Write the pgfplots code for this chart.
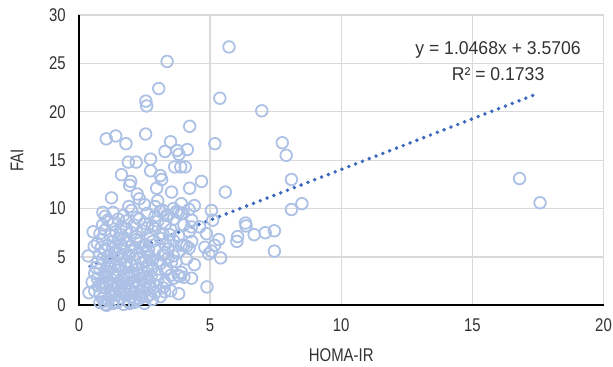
\documentclass[border=0pt]{standalone}
\usepackage{fontspec}
\setmainfont[FakeStretch=0.81]{Liberation Sans}
\newfontfamily\eqfont[FakeStretch=0.95]{Liberation Sans}
\usepackage{pgfplots}
\pgfplotsset{compat=1.18}
\definecolor{gridc}{RGB}{217,217,217}
\definecolor{mk}{RGB}{172,193,229}
\definecolor{tl}{RGB}{60,105,190}
\definecolor{txt}{RGB}{50,50,50}
\pgfplotstableread{
x y
1.04 17.2
1.40 17.5
1.79 16.7
2.54 17.7
3.36 25.2
3.04 22.4
2.55 21.1
2.58 20.6
5.72 26.7
5.37 21.4
6.97 20.1
4.22 18.5
3.49 16.9
3.28 15.9
3.74 16.0
3.81 15.6
4.13 16.1
5.18 16.7
2.73 15.1
2.18 14.8
1.88 14.8
1.62 13.5
1.97 12.8
1.93 12.4
2.73 13.9
3.10 13.4
3.15 13.0
2.96 12.1
2.22 11.5
2.30 11.0
1.24 11.1
3.65 14.3
3.88 14.3
4.05 14.3
4.67 12.8
4.22 12.1
3.53 11.7
5.58 11.7
7.75 16.8
7.90 15.5
8.10 13.0
8.50 10.5
8.10 9.9
5.05 9.8
6.35 8.5
6.37 8.2
6.05 7.1
6.02 6.6
6.68 7.3
7.10 7.5
7.45 7.7
7.45 5.6
5.40 4.9
4.88 1.9
4.86 7.4
5.10 8.8
5.33 6.8
4.80 6.0
5.05 5.6
4.95 5.3
5.17 6.2
16.8 13.1
17.58 10.6
4.60 8.1
4.29 8.1
3.90 9.5
4.29 2.8
3.84 3.0
3.27 1.4
2.70 1.1
1.94 0.2
1.05 0.0
0.38 1.3
0.35 5.1
0.54 7.6
0.58 6.1
0.91 9.6
3.72 9.7
3.97 9.5
3.34 9.3
3.46 7.3
3.90 6.2
4.10 6.1
3.27 5.4
3.53 4.5
3.34 3.8
3.78 3.1
3.27 2.4
3.40 6.6
0.8 0.3
1.0 0.1
1.1 0.6
1.3 0.2
1.5 0.5
1.7 0.1
1.9 0.4
2.1 0.3
2.3 0.7
2.5 0.2
2.8 0.6
3.1 0.9
1.2 0.9
1.6 0.8
2.0 0.9
0.9 0.7
2.6 0.9
0.6 1.5
0.8 1.2
1.0 1.8
1.2 1.4
1.4 1.1
1.5 1.9
1.7 1.3
1.9 1.7
2.1 1.2
2.2 1.8
2.4 1.4
2.6 1.6
2.9 1.3
3.2 1.8
3.5 1.5
0.9 1.9
1.3 1.7
2.0 1.5
2.7 1.9
3.8 1.2
0.5 2.4
0.7 2.8
0.9 2.3
1.1 2.6
1.2 2.1
1.4 2.9
1.6 2.4
1.8 2.2
1.9 2.8
2.1 2.5
2.3 2.2
2.5 2.9
2.7 2.4
3.0 2.6
3.3 2.3
3.6 2.8
4.0 2.9
1.0 2.9
1.5 2.2
2.4 2.7
0.6 3.3
0.8 3.7
1.0 3.2
1.2 3.8
1.3 3.4
1.5 3.6
1.7 3.1
1.8 3.9
2.0 3.4
2.2 3.7
2.3 3.1
2.5 3.5
2.8 3.9
3.0 3.2
3.3 3.6
3.5 3.1
3.9 3.4
1.1 3.5
1.9 3.3
2.6 3.8
0.7 4.4
0.9 4.8
1.1 4.1
1.2 4.6
1.4 4.3
1.6 4.9
1.8 4.5
2.0 4.2
2.1 4.8
2.4 4.4
2.6 4.1
2.8 4.7
3.1 4.3
3.4 4.9
3.7 4.5
4.1 4.8
1.5 4.0
2.3 4.9
3.0 4.6
4.4 4.2
0.8 5.3
1.0 5.7
1.2 5.2
1.3 5.9
1.5 5.4
1.7 5.8
1.9 5.1
2.0 5.6
2.2 5.3
2.4 5.9
2.6 5.4
2.9 5.7
3.2 5.2
3.4 5.8
3.8 5.5
4.2 5.9
1.1 5.0
2.7 5.0
3.6 5.1
0.7 6.4
0.9 6.8
1.1 6.2
1.3 6.6
1.5 6.9
1.6 6.3
1.8 6.7
2.0 6.1
2.2 6.8
2.3 6.4
2.5 6.2
2.8 6.6
3.1 6.9
3.3 6.3
3.6 6.7
4.0 6.2
4.3 6.6
1.4 6.1
0.8 7.4
1.0 7.8
1.2 7.2
1.4 7.6
1.6 7.3
1.8 7.9
2.0 7.5
2.2 7.1
2.4 7.7
2.7 7.3
2.9 7.9
3.2 7.4
3.5 7.8
3.8 7.2
4.2 7.6
1.7 7.0
0.9 8.3
1.1 8.8
1.3 8.4
1.6 8.1
1.8 8.7
2.1 8.3
2.3 8.9
2.5 8.5
2.8 8.2
3.0 8.7
3.3 8.4
3.6 8.9
4.0 8.3
4.3 8.8
1.5 8.9
2.6 8.0
1.0 9.2
1.3 9.6
1.7 9.3
2.0 9.8
2.2 9.1
2.6 9.5
2.9 9.2
3.1 9.7
3.4 9.3
3.8 9.6
4.2 9.9
1.9 10.2
2.5 10.4
2.9 10.2
3.2 9.8
3.6 10.0
3.9 10.5
4.4 10.3
3.0 10.8
0.95 0.4
1.45 0.3
2.15 0.6
1.25 1.2
1.75 1.6
2.35 1.0
1.05 2.2
1.65 2.7
2.25 3.3
1.35 3.1
2.05 2.0
1.85 1.1
2.45 2.1
1.55 1.4
0.75 2.0
1.15 4.4
1.75 4.2
2.55 4.6
1.35 5.5
2.15 5.9
0.65 3.9
0.85 6.0
2.75 3.0
2.95 2.0
2.65 5.8
}\pts
\pgfplotstableread{
x y
0.42 4.01
17.55 21.94
}\trend
\begin{document}
\begin{tikzpicture}
\begin{axis}[name=ax, scale only axis, width=524.5bp, height=290.3bp,
  xmin=0, xmax=20, ymin=0, ymax=30,
  xtick={0,5,10,15,20}, ytick={0,5,10,15,20,25,30},
  grid=major, major grid style={gridc, line width=1.3bp},
  axis line style={gridc, line width=1.3bp},
  major tick length=0pt,
  /pgf/number format/assume math mode=true,
  tick label style={font=\fontsize{18.5}{19}\selectfont, text=txt, inner sep=0pt},
  xticklabel style={anchor=north, yshift=-13.5bp},
  yticklabel style={anchor=east, xshift=-13bp},
  label style={font=\fontsize{18.5}{19}\selectfont, text=txt},
  xlabel={HOMA-IR},
  ylabel={FAI},
  xlabel style={at={(axis description cs:0.5,-0.172)}, anchor=center},
  ylabel style={at={(axis description cs:-0.118,0.5)}, anchor=center},
  clip=false,
]
\addplot[only marks, mark=o, mark size=5.8bp, mark options={draw=mk, line width=1.8bp, fill opacity=0}] table {\pts};
\addplot[tl, line width=3.9bp, line cap=round, dash pattern=on 0bp off 7.3bp] table {\trend};
\draw[black, line width=2bp] (rel axis cs:0,1) -- (rel axis cs:0,0) -- (rel axis cs:1,0);
\node[align=center, font=\eqfont\fontsize{18.6}{26}\selectfont, text=txt] at (axis cs:15.98,25.24) {y = 1.0468x + 3.5706\\R² = 0.1733};
\end{axis}
\pgfresetboundingbox
\path ([shift={(-79bp,-61.7bp)}]ax.south west) rectangle ([shift={(9.5bp,15bp)}]ax.north east);
\end{tikzpicture}
\end{document}
